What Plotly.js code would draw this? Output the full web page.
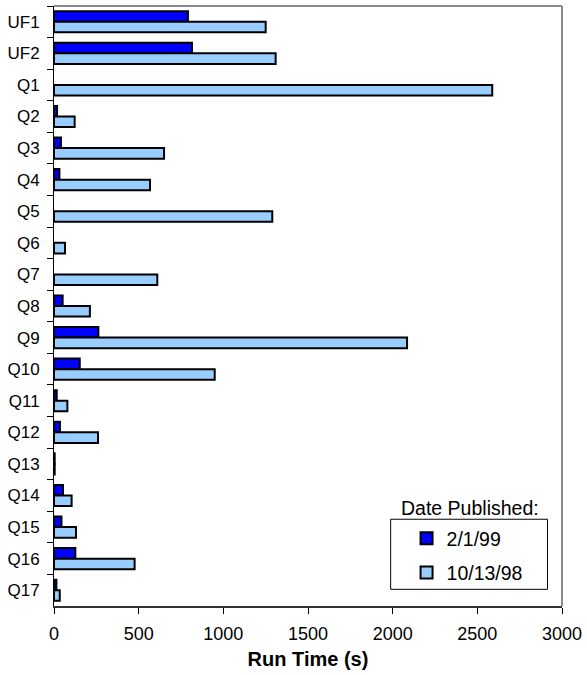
<!DOCTYPE html>
<html>
<head>
<meta charset="utf-8">
<script src="https://cdn.plot.ly/plotly-3.0.1.min.js"></script>
<style>
  html, body { margin: 0; padding: 0; background: #fff; }
  #chart { width: 587px; height: 675px; }
</style>
</head>
<body>
<div id="chart"></div>
<script>
// Query run times (seconds) for two published result sets
const queries = ["UF1", "UF2", "Q1", "Q2", "Q3", "Q4", "Q5", "Q6", "Q7", "Q8",
                 "Q9", "Q10", "Q11", "Q12", "Q13", "Q14", "Q15", "Q16", "Q17"];
const seriesNames = ["2/1/99", "10/13/98"];
const runTimeFeb99 = [791, 815, null, 18, 41, 32, null, null, null, 51,
                      262, 152, 16, 35, 4, 53, 44, 126, 14];
const runTimeOct98 = [1250, 1309, 2588, 122, 650, 567, 1289, 65, 610, 212,
                      2085, 949, 79, 260, 4, 104, 130, 476, 34];
const xTicks = [0, 500, 1000, 1500, 2000, 2500, 3000];

const FONT = "Liberation Sans, Arial, sans-serif";

function barTrace(name, values, color, group) {
  return {
    type: "bar",
    orientation: "h",
    name: name,
    y: queries,
    x: values,
    legendgroup: group,
    marker: { color: color, line: { color: "#000000", width: 2 } },
    hoverinfo: "x+y+name"
  };
}

const data = [
  barTrace(seriesNames[0], runTimeFeb99, "#0000FF", "a"),
  barTrace(seriesNames[1], runTimeOct98, "#99CCFF", "b")
];

const layout = {
  width: 587,
  height: 675,
  margin: { l: 54, r: 25, t: 6, b: 69, pad: 0 },
  paper_bgcolor: "#ffffff",
  plot_bgcolor: "#ffffff",
  font: { family: FONT, color: "#000000", size: 17 },
  barmode: "group",
  bargap: 0.33,
  bargroupgap: 0,
  showlegend: true,
  legend: {
    x: 0.694, y: 0.145, xanchor: "left", yanchor: "top",
    bgcolor: "rgba(0,0,0,0)",
    borderwidth: 0,
    font: { family: FONT, size: 19.5, color: "#000000" },
    traceorder: "grouped",
    tracegroupgap: 6,
    itemwidth: 30
  },
  xaxis: {
    range: [0, 3000],
    tickvals: xTicks,
    ticktext: xTicks.map(String),
    ticks: "outside",
    ticklen: 6,
    tickcolor: "#000000",
    tickwidth: 1,
    showgrid: false,
    zeroline: false,
    showline: true,
    linecolor: "#333333",
    linewidth: 1.5,
    tickfont: { family: FONT, size: 18 },
    ticklabelstandoff: 5,
    title: { text: "<b>Run Time (s)</b>", font: { family: FONT, size: 20 }, standoff: 9 },
    fixedrange: true
  },
  yaxis: {
    type: "category",
    autorange: "reversed",
    ticks: "outside",
    tickson: "boundaries",
    ticklen: 6,
    tickcolor: "#000000",
    tickwidth: 1,
    showgrid: false,
    zeroline: false,
    showline: true,
    linecolor: "#000000",
    linewidth: 1,
    tickfont: { family: FONT, size: 17 },
    ticklabelstandoff: 10,
    fixedrange: true
  },
  shapes: [
    // gray plot-area frame on the top and right
    { type: "line", xref: "paper", yref: "paper", x0: 0, x1: 1, y0: 1, y1: 1,
      line: { color: "#888888", width: 2 } },
    { type: "line", xref: "paper", yref: "paper", x0: 1, x1: 1, y0: 0, y1: 1,
      line: { color: "#888888", width: 2 } },
    // legend frame
    { type: "rect", xref: "paper", yref: "paper", x0: 0.6627, x1: 0.9715, y0: 0.0278, y1: 0.1446,
      line: { color: "#000000", width: 1 }, fillcolor: "#ffffff", layer: "above" }
  ],
  annotations: [
    { xref: "paper", yref: "paper", x: 0.818, y: 0.163, xanchor: "center", yanchor: "middle",
      text: "Date Published:", showarrow: false,
      font: { family: FONT, size: 19.5, color: "#000000" } }
  ]
};

Plotly.newPlot("chart", data, layout, { staticPlot: true, displayModeBar: false });
</script>
</body>
</html>
